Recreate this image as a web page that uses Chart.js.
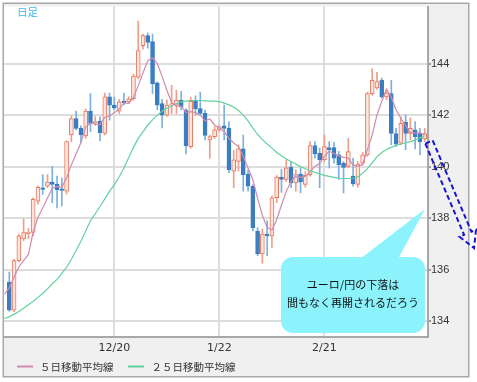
<!DOCTYPE html>
<html><head><meta charset="utf-8">
<script src="https://cdn.jsdelivr.net/npm/chart.js@4.4.1/dist/chart.umd.min.js"></script>
<style>html,body{margin:0;padding:0;background:#fff;overflow:hidden}canvas{display:block}</style>
</head><body><canvas id="c" width="477" height="382"></canvas>
<script>
// ---- data (EUR/JPY daily candles) ----
const dates = ['11/20','11/21','11/22','11/25','11/26','11/27','11/28','11/29','12/2','12/3',
 '12/4','12/5','12/6','12/9','12/10','12/11','12/12','12/13','12/16','12/17',
 '12/18','12/19','12/20','12/23','12/24','12/25','12/26','12/27','12/30','12/31',
 '1/2','1/3','1/6','1/7','1/8','1/9','1/10','1/13','1/14','1/15',
 '1/16','1/17','1/20','1/21','1/22','1/23','1/24','1/27','1/28','1/29',
 '1/30','1/31','2/3','2/4','2/5','2/6','2/7','2/10','2/11','2/12',
 '2/13','2/14','2/17','2/18','2/19','2/20','2/21','2/24','2/25','2/26',
 '2/27','2/28','3/3','3/4','3/5','3/6','3/7','3/10','3/11','3/12',
 '3/13','3/14','3/17','3/18','3/19','3/20','3/21','3/24'];
const openP = [135.51,134.42,136.35,137.19,137.40,137.44,138.66,139.18,139.24,139.40,
 139.31,139.14,139.05,141.23,141.87,141.49,141.19,142.16,141.70,141.77,
 141.29,142.71,142.39,142.16,142.55,142.52,142.64,143.48,144.70,145.09,
 144.86,143.26,142.45,142.00,142.39,142.39,142.58,142.20,140.78,142.54,
 142.26,142.07,141.04,141.17,141.43,141.59,141.49,139.82,140.20,140.69,
 139.71,139.24,137.50,136.61,137.38,137.31,138.79,139.59,139.50,139.97,
 139.37,139.71,139.31,139.69,140.82,140.52,140.27,140.74,140.74,140.46,
 140.14,140.01,139.63,139.31,140.14,140.46,142.84,143.06,143.35,142.71,
 142.84,141.29,140.91,141.72,141.29,141.43,141.29,141.08];
const highP = [135.90,136.40,137.38,137.96,137.60,138.79,139.25,139.69,139.69,140.01,
 139.63,139.56,141.00,141.97,142.16,141.59,142.24,142.84,141.95,141.94,
 142.86,142.86,142.70,142.62,142.86,142.71,143.60,145.66,145.15,145.20,
 145.15,143.30,142.62,142.60,143.16,142.97,142.93,142.26,142.70,142.75,
 142.90,142.20,141.23,141.56,141.60,142.39,141.75,140.63,140.85,141.23,
 139.88,139.30,137.63,137.57,137.89,138.86,139.65,139.90,140.27,140.20,
 139.88,139.95,139.80,140.97,140.97,140.72,141.23,140.97,140.95,140.60,
 140.20,141.10,140.33,140.20,140.55,142.90,143.80,143.67,143.44,142.95,
 143.35,141.49,141.94,142.00,141.90,141.75,141.49,141.49];
const lowP = [134.38,134.36,136.30,137.12,137.20,137.31,138.54,138.92,139.18,138.60,
 138.40,138.47,138.94,140.97,141.43,140.95,141.10,141.36,141.60,141.00,
 141.23,141.81,142.20,142.07,142.40,142.45,142.58,143.41,144.57,144.60,
 142.84,142.20,141.51,141.95,142.07,142.07,142.20,140.49,140.72,142.00,
 142.00,141.04,140.33,141.10,141.37,141.04,139.77,139.18,139.82,139.05,
 139.05,137.50,136.54,136.25,136.54,136.86,138.60,139.00,139.43,139.18,
 139.05,138.98,139.20,139.63,140.33,139.18,140.20,139.95,140.14,139.50,
 138.98,139.95,139.24,139.20,140.05,140.40,142.77,143.00,142.66,142.60,
 140.85,140.78,140.85,140.66,141.04,140.69,140.46,140.97];
const closeP = [134.42,136.35,137.31,137.44,137.45,138.73,139.20,139.12,139.40,139.31,
 139.11,139.08,140.97,141.87,141.49,141.23,142.16,141.68,141.75,141.32,
 142.71,142.39,142.28,142.52,142.49,142.64,143.52,144.51,145.09,144.83,
 143.22,142.39,142.00,142.39,142.45,142.58,142.32,140.82,142.54,142.24,
 142.07,141.21,141.17,141.43,141.55,141.49,139.88,140.27,140.69,139.69,
 139.24,137.63,136.61,137.38,137.31,138.79,139.59,139.50,139.95,139.37,
 139.69,139.41,139.66,140.82,140.49,140.27,140.78,140.66,140.33,140.08,
 139.97,140.59,139.33,140.10,140.46,142.84,143.35,143.31,142.71,142.86,
 141.29,140.87,141.68,141.29,141.49,141.17,140.97,141.29];
// moving averages; first value belongs to the day before dates[0]
const maStart = -1;
const ma5 = [135.05,135.30,135.70,136.10,136.35,136.59,137.46,138.03,138.39,138.78,
 139.15,139.23,139.20,139.57,140.07,140.50,140.93,141.54,141.69,141.66,
 141.63,141.92,141.97,142.09,142.24,142.48,142.46,142.69,143.14,143.65,
 144.12,144.23,144.01,143.51,142.97,142.49,142.36,142.35,142.11,142.14,
 142.10,142.00,141.78,141.85,141.62,141.49,141.37,141.10,140.92,140.78,
 140.40,139.95,139.50,138.77,138.11,137.63,137.54,137.94,138.51,139.03,
 139.44,139.62,139.58,139.62,139.79,140.01,140.13,140.40,140.60,140.51,
 140.42,140.36,140.33,140.06,140.01,140.09,140.66,141.22,142.01,142.53,
 143.01,142.70,142.21,141.88,141.60,141.32,141.30,141.32,141.24];
const ma25 = [134.10,134.17,134.27,134.37,134.50,134.63,134.77,134.92,135.07,135.25,
 135.45,135.62,135.85,136.09,136.40,136.74,137.10,137.50,137.90,138.17,
 138.45,138.75,139.05,139.30,139.60,139.95,140.35,140.75,141.10,141.35,
 141.62,141.82,142.00,142.15,142.27,142.36,142.45,142.52,142.55,142.57,
 142.57,142.57,142.56,142.55,142.55,142.53,142.47,142.40,142.32,142.18,
 142.00,141.78,141.50,141.25,141.05,140.88,140.72,140.55,140.42,140.30,
 140.20,140.10,140.00,139.92,139.85,139.78,139.72,139.66,139.62,139.58,
 139.55,139.54,139.54,139.55,139.60,139.75,139.92,140.15,140.38,140.55,
 140.67,140.75,140.83,140.88,140.92,140.97,141.03,141.12,141.20];
const seriesNames = ['５日移動平均線', '２５日移動平均線'];
const yTicks = [134, 136, 138, 140, 142, 144];
const xTickIdx = [22, 44, 66];
const periodLabel = '日足';
const noteLines = ['ユーロ/円の下落は', '間もなく再開されるだろう'];

// ---- styles ----
const UP_FILL = '#fde4dc', UP_LINE = '#e47a60', UP_WICK = '#ef9e88';
const DN_FILL = '#3b7dc1', DN_WICK = '#7cb0df';
const MA5_COL = '#cf8cae', MA25_COL = '#62d29c';
const isUp = i => closeP[i] >= openP[i];

const framePlugin = {
  id: 'frame',
  beforeDraw(chart) {
    const ctx = chart.ctx, a = chart.chartArea;
    ctx.save();
    ctx.fillStyle = '#ffffff'; ctx.fillRect(0, 0, chart.width, chart.height);
    ctx.fillStyle = '#f0f0f0'; ctx.fillRect(3, 3, 466, 374);
    ctx.strokeStyle = '#a8a8a8'; ctx.lineWidth = 1.5; ctx.strokeRect(3.25, 3.25, 465.5, 373.5);
    ctx.fillStyle = '#ffffff'; ctx.fillRect(a.left, a.top, a.right - a.left, a.bottom - a.top);
    ctx.restore();
  },
  afterDraw(chart) {
    const ctx = chart.ctx;
    ctx.save();
    // period label
    ctx.fillStyle = '#3db8ec'; ctx.font = '10.5px "Noto Sans CJK JP"';
    ctx.textBaseline = 'middle'; ctx.textAlign = 'left';
    ctx.fillText(periodLabel, 17, 12);
    // callout
    ctx.fillStyle = '#8cf2fb';
    ctx.beginPath(); ctx.roundRect(281, 257, 144, 76, 12); ctx.fill();
    ctx.beginPath(); ctx.moveTo(360, 259); ctx.lineTo(425, 209); ctx.lineTo(398, 259); ctx.closePath(); ctx.fill();
    ctx.fillStyle = '#111'; ctx.font = '11px "Noto Sans CJK JP"'; ctx.textAlign = 'center';
    ctx.fillText(noteLines[0], 353, 285);
    ctx.fillText(noteLines[1], 353, 303);
    // legend
    ctx.textAlign = 'left'; ctx.font = '10.5px "Noto Sans CJK JP"';
    const leg = [[17, 40], [128, 151.5]];
    [0, 1].forEach(k => {
      const ds = chart.data.datasets[k];
      ctx.strokeStyle = ds.borderColor; ctx.lineWidth = 2;
      ctx.beginPath(); ctx.moveTo(leg[k][0], 366.5); ctx.lineTo(leg[k][0] + 16, 366.5); ctx.stroke();
      ctx.fillStyle = '#333'; ctx.fillText(ds.label, leg[k][1], 367);
    });
    // dashed arrow
    const T = {x: 429, y: 142}, P = {x: 474, y: 248};
    const dx = P.x - T.x, dy = P.y - T.y, L = Math.hypot(dx, dy), ux = dx / L, uy = dy / L, nx = -uy, ny = ux;
    const hl = 16, sw = 4, hw = 9, Hx = P.x - ux * hl, Hy = P.y - uy * hl;
    const pts = [[T.x + nx * sw, T.y + ny * sw], [Hx + nx * sw, Hy + ny * sw], [Hx + nx * hw, Hy + ny * hw], [P.x, P.y],
      [Hx - nx * hw, Hy - ny * hw], [Hx - nx * sw, Hy - ny * sw], [T.x - nx * sw, T.y - ny * sw]];
    ctx.setLineDash([5, 3]); ctx.strokeStyle = '#1414d2'; ctx.lineWidth = 2;
    ctx.beginPath(); pts.forEach((p, i) => i ? ctx.lineTo(p[0], p[1]) : ctx.moveTo(p[0], p[1])); ctx.closePath(); ctx.stroke();
    ctx.restore();
  }
};

new Chart(document.getElementById('c'), {
  type: 'bar',
  data: {
    datasets: [
      { type: 'line', label: seriesNames[0], data: ma5.map((v, i) => ({x: i + maStart, y: v})),
        borderColor: MA5_COL, borderWidth: 1.2, pointRadius: 0, tension: 0, order: 0 },
      { type: 'line', label: seriesNames[1], data: ma25.map((v, i) => ({x: i + maStart, y: v})),
        borderColor: MA25_COL, borderWidth: 1.2, pointRadius: 0, tension: 0, order: 0 },
      { type: 'bar', label: 'body', data: dates.map((d, i) => ({x: i, y: [openP[i], closeP[i]]})),
        backgroundColor: c => isUp(c.dataIndex) ? UP_FILL : DN_FILL,
        borderColor: c => isUp(c.dataIndex) ? UP_LINE : DN_FILL,
        borderWidth: 1, borderSkipped: false, barThickness: 4, minBarLength: 1, grouped: false, order: 1 },
      { type: 'bar', label: 'wick', data: dates.map((d, i) => ({x: i, y: [lowP[i], highP[i]]})),
        backgroundColor: c => isUp(c.dataIndex) ? UP_WICK : DN_WICK,
        borderWidth: 0, barThickness: 1, grouped: false, order: 2 }
    ]
  },
  options: {
    responsive: false, animation: false, events: [],
    layout: { padding: { left: 4, top: 4, right: 0, bottom: 0 } },
    plugins: { legend: { display: false }, tooltip: { enabled: false } },
    scales: {
      x: { type: 'linear', min: -1.11, max: 87.69, offset: false,
        afterBuildTicks: s => { s.ticks = xTickIdx.map(v => ({value: v})); },
        afterFit: s => { s.height = 45; },
        grid: { color: '#dddddd', lineWidth: 2, drawTicks: false, offset: false },
        border: { display: true, color: '#a8a8a8', width: 2 },
        ticks: { callback: v => dates[v], color: '#333', font: { family: 'DejaVu Sans', size: 11 },
          padding: 5, maxRotation: 0, autoSkip: false } },
      y: { position: 'right', min: 133.38, max: 146.22,
        afterBuildTicks: s => { s.ticks = yTicks.map(v => ({value: v})); },
        afterFit: s => { s.width = 49; },
        grid: { color: '#dddddd', lineWidth: 2, tickLength: 3, tickColor: '#999' },
        border: { display: true, color: '#a8a8a8', width: 2 },
        ticks: { color: '#333', font: { family: 'Liberation Sans', size: 11 }, padding: 0 } }
    }
  },
  plugins: [framePlugin]
});
</script></body></html>
